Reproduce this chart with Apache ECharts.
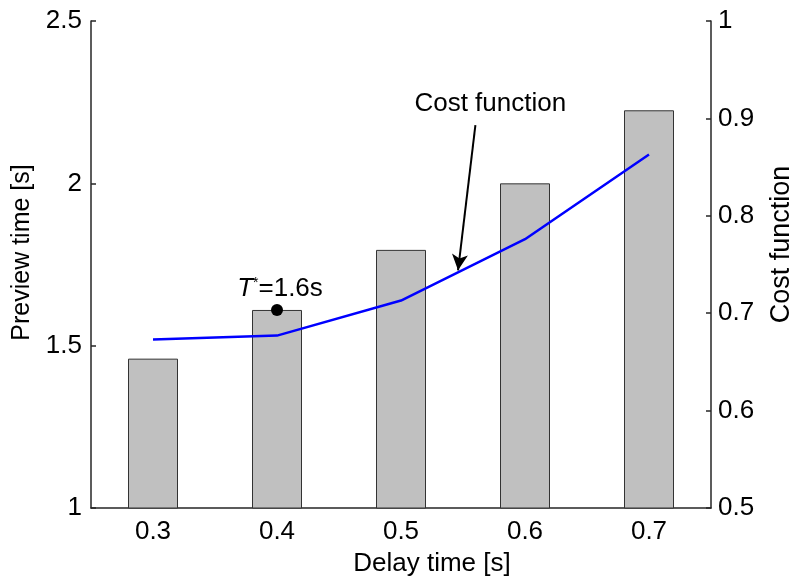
<!DOCTYPE html>
<html>
<head>
<meta charset="utf-8">
<script src="https://cdn.jsdelivr.net/npm/echarts@6/dist/echarts.min.js"></script>
<style>
html,body{margin:0;padding:0;background:#fff;}
#chart{width:792px;height:582px;}
</style>
</head>
<body>
<div id="chart"></div>
<script>
// Data
const delayTimes = [0.3, 0.4, 0.5, 0.6, 0.7];
const previewTimes = [1.46, 1.61, 1.795, 2.0, 2.225];
const costValues = [0.673, 0.677, 0.713, 0.776, 0.863];
const xTickLabels = [0.3, 0.4, 0.5, 0.6, 0.7];
const optimum = { x: 0.4, y: 1.61, text: '=1.6s' };
const costLabel = { x: 0.572, y: 0.915, text: 'Cost function' };
const costArrow = { from: [0.56, 0.893], to: [0.546, 0.744] };

const FONT = 'Liberation Sans, Arial, Helvetica, sans-serif';
const FS = 26;

const chart = echarts.init(document.getElementById('chart'), null, { renderer: 'canvas' });

const axisLineStyle = { color: '#262626', width: 1.5 };

chart.setOption({
  animation: false,
  backgroundColor: '#ffffff',
  textStyle: { fontFamily: FONT },
  grid: { left: 91, right: 81, top: 21, bottom: 74, outerBoundsMode: 'none' },
  xAxis: {
    type: 'value',
    min: 0.25,
    max: 0.75,
    name: 'Delay time [s]',
    nameLocation: 'middle',
    nameGap: 43,
    nameTextStyle: { fontSize: FS, color: '#000', fontFamily: FONT, padding: [0, 0, 0, 62] },
    axisLine: { show: true, lineStyle: axisLineStyle },
    axisTick: { show: true, inside: true, length: 5, customValues: xTickLabels, lineStyle: axisLineStyle },
    axisLabel: { customValues: xTickLabels, fontSize: FS, color: '#000', margin: 11, fontFamily: FONT,
      formatter: v => String(v) },
    splitLine: { show: false }
  },
  yAxis: [
    {
      type: 'value',
      min: 1, max: 2.5, interval: 0.5,
      position: 'left',
      name: 'Preview time [s]',
      nameLocation: 'middle',
      nameGap: 51,
      nameTextStyle: { fontSize: 25, color: '#000', fontFamily: FONT, padding: [0, 0, 0, 24] },
      axisLine: { show: true, lineStyle: axisLineStyle },
      axisTick: { show: true, inside: true, length: 5, lineStyle: axisLineStyle },
      axisLabel: { fontSize: FS, color: '#000', margin: 9, fontFamily: FONT },
      splitLine: { show: false }
    },
    {
      type: 'value',
      min: 0.5, max: 1, interval: 0.1,
      position: 'right',
      name: 'Cost function',
      nameLocation: 'middle',
      nameGap: 57,
      nameTextStyle: { fontSize: 27, color: '#000', fontFamily: FONT, padding: [0, 0, 0, 40] },
      axisLine: { show: true, lineStyle: axisLineStyle },
      axisTick: { show: true, inside: true, length: 5, lineStyle: axisLineStyle },
      axisLabel: { fontSize: FS, color: '#000', margin: 7, fontFamily: FONT,
        formatter: v => String(Math.round(v * 10) / 10) },
      splitLine: { show: false }
    }
  ],
  series: [
    {
      type: 'bar',
      yAxisIndex: 0,
      barWidth: 50,
      data: delayTimes.map((x, i) => [x, previewTimes[i]]),
      itemStyle: { color: '#c0c0c0', borderColor: '#333333', borderWidth: 1 },
      emphasis: { disabled: true },
      markPoint: {
        silent: true,
        data: [{
          coord: [optimum.x, optimum.y],
          symbol: 'circle',
          symbolSize: 12,
          itemStyle: { color: '#000' },
          label: {
            show: true,
            position: 'top',
            distance: 2,
            offset: [3, 0],
            formatter: '{t|T}{s|*}{n|' + optimum.text + '}',
            rich: {
              t: { fontSize: FS, fontStyle: 'italic', color: '#000', fontFamily: FONT },
              s: { fontSize: 14, color: '#000', fontFamily: FONT, verticalAlign: 'top', padding: [0, 0, 12, 0] },
              n: { fontSize: FS, color: '#000', fontFamily: FONT }
            }
          }
        }]
      }
    },
    {
      type: 'line',
      yAxisIndex: 1,
      data: delayTimes.map((x, i) => [x, costValues[i]]),
      symbol: 'none',
      lineStyle: { color: '#0000ff', width: 2.5 },
      emphasis: { disabled: true },
      z: 5,
      markLine: {
        silent: true,
        symbol: ['none', 'arrow'],
        symbolSize: [12, 16],
        lineStyle: { color: '#000', width: 2, type: 'solid' },
        label: { show: false },
        data: [[{ coord: costArrow.from }, { coord: costArrow.to }]]
      },
      markPoint: {
        silent: true,
        data: [{
          coord: [costLabel.x, costLabel.y],
          symbol: 'circle',
          symbolSize: 1,
          itemStyle: { color: 'rgba(0,0,0,0)' },
          label: { show: true, position: 'inside', formatter: costLabel.text,
            fontSize: FS, color: '#000', fontFamily: FONT }
        }]
      }
    }
  ]
});
</script>
</body>
</html>
